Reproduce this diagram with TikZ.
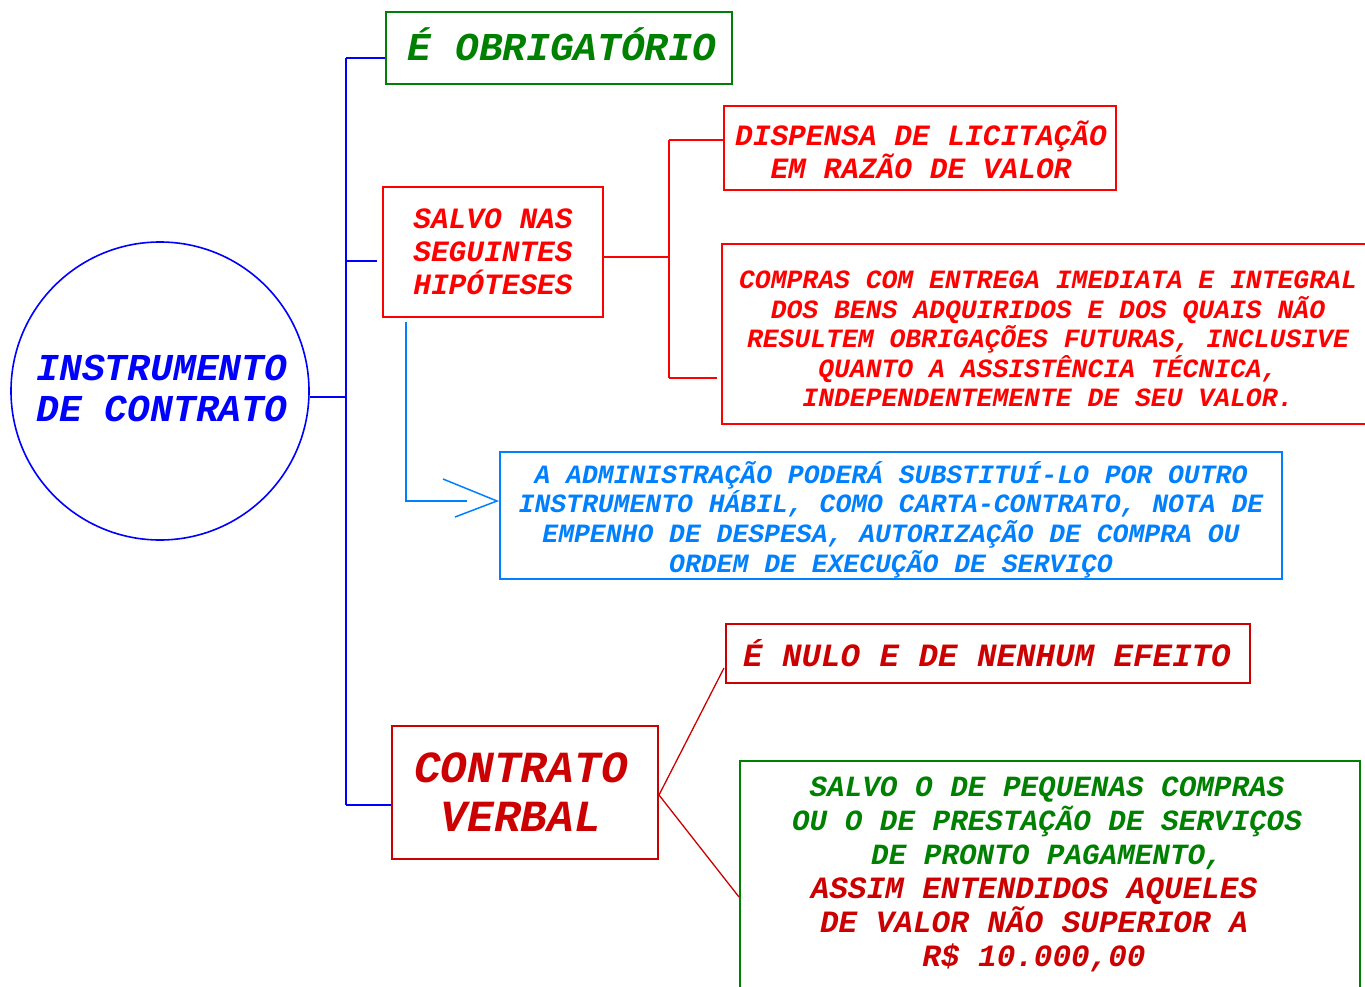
\documentclass[tikz,border=0pt]{standalone}
\usepackage{fontspec}
\newfontfamily\cour{Liberation Mono}
\definecolor{cblue}{RGB}{0,0,255}
\definecolor{cgreen}{RGB}{0,128,0}
\definecolor{cred}{RGB}{255,0,0}
\definecolor{cdred}{RGB}{204,0,0}
\definecolor{clblue}{RGB}{0,128,255}
\newcommand{\redln}[1]{\mbox{\color{cdred}\fontsize{31}{34}\selectfont #1\kern26pt}}
\tikzset{
  bx/.style={draw, line width=1.6pt, inner sep=0pt},
  tx/.style={inner sep=0pt, align=center},
  ln/.style={line width=1.5pt},
  fs/.style 2 args={font=\cour\bfseries\itshape\fontsize{#1}{#2}\selectfont}
}
\begin{document}
\begin{tikzpicture}[x=1pt,y=-1pt]
\useasboundingbox (0,0) rectangle (1365,987);
\clip (0,0) rectangle (1365,987);
% central circle
\node[bx, draw=cblue, circle, minimum size=298pt] (circ) at (160,391) {};
\node[tx, text=cblue, fs={38}{41}] (circt) at (162,388) {INSTRUMENTO\\DE CONTRATO};
% boxes
\node[bx, draw=cgreen, minimum width=346pt, minimum height=72pt] (obrig) at (559,48) {};
\node[tx, text=cgreen, fs={39.5}{42}] (obrigt) at (562,44) {É OBRIGATÓRIO};
\node[bx, draw=cred, minimum width=220pt, minimum height=130pt] (salvo) at (493,252) {};
\node[tx, text=cred, fs={29.5}{33}] (salvot) at (493,252) {SALVO NAS\\SEGUINTES\\HIPÓTESES};
\node[bx, draw=cred, minimum width=392pt, minimum height=84pt] (disp) at (920,148) {};
\node[tx, text=cred, fs={29.5}{33}] (dispt) at (921,150) {DISPENSA DE LICITAÇÃO\\EM RAZÃO DE VALOR};
\node[bx, draw=cred, minimum width=652pt, minimum height=180pt] (compras) at (1048,334) {};
\node[tx, text=cred, fs={26.4}{29.6}] (comprast) at (1048,339) {COMPRAS COM ENTREGA IMEDIATA E INTEGRAL\\DOS BENS ADQUIRIDOS E DOS QUAIS NÃO\\RESULTEM OBRIGAÇÕES FUTURAS, INCLUSIVE\\QUANTO A ASSISTÊNCIA TÉCNICA,\\INDEPENDENTEMENTE DE SEU VALOR.};
\node[bx, draw=clblue, minimum width=782pt, minimum height=127pt] (admin) at (891,515.5) {};
\node[tx, text=clblue, fs={26.4}{29.7}] (admint) at (891,519.5) {A ADMINISTRAÇÃO PODERÁ SUBSTITUÍ-LO POR OUTRO\\INSTRUMENTO HÁBIL, COMO CARTA-CONTRATO, NOTA DE\\EMPENHO DE DESPESA, AUTORIZAÇÃO DE COMPRA OU\\ORDEM DE EXECUÇÃO DE SERVIÇO};
\node[bx, draw=cdred, minimum width=524pt, minimum height=59pt] (nulo) at (988,653.5) {};
\node[tx, text=cdred, fs={32.5}{35}] (nulot) at (987,653.5) {É NULO E DE NENHUM EFEITO};
\node[bx, draw=cdred, minimum width=266pt, minimum height=133pt] (verbal) at (525,792.5) {};
\node[tx, text=cdred, fs={44.5}{49}] (verbalt) at (521,792.5) {CONTRATO\\VERBAL};
\node[bx, draw=cgreen, minimum width=620pt, minimum height=250pt, anchor=north] (salvo2) at (1050,760) {};
\node[tx, text=cgreen, fs={29.3}{34}, anchor=north] (salvo2t) at (1047,777) {SALVO O DE PEQUENAS COMPRAS\\OU O DE PRESTAÇÃO DE SERVIÇOS\\DE PRONTO PAGAMENTO,\\\redln{ASSIM ENTENDIDOS AQUELES}\\\redln{DE VALOR NÃO SUPERIOR A}\\\redln{R\$ 10.000,00}};
% blue trunk
\coordinate (bt) at (346,58);
\coordinate (bb) at (346,805);
\coordinate (bs) at (346,261);
\draw[ln, cblue] (bt) -- (bb);
\draw[ln, cblue] (circ.east |- 0,397) -- (bt |- 0,397);
\draw[ln, cblue] (bt) -- (obrig.west |- bt);
\draw[ln, cblue] (bs) -- ([xshift=-5pt]salvo.west |- bs);
\draw[ln, cblue] (bb) -- (verbal.west |- bb);
% red branches
\coordinate (rt) at (669,140);
\coordinate (rb) at (669,378);
\draw[ln, cred] (salvo.east |- 0,257) -- (rt |- 0,257);
\draw[ln, cred] (rt) -- (rb);
\draw[ln, cred] (rt) -- (disp.west |- rt);
\draw[ln, cred] (rb) -- ([xshift=-4pt]compras.west |- rb);
% light blue arrow
\coordinate (ls) at (406,322);
\coordinate (lc) at (406,501);
\coordinate (le) at (467,501);
\coordinate (tip) at (497,501);
\coordinate (h1) at (443,479);
\coordinate (h2) at (455,517);
\draw[ln, clblue] (ls) -- (lc) -- (le);
\draw[ln, clblue] (h1) -- (tip) -- (h2);
% dark red lines
\coordinate (vo) at (659,795);
\coordinate (n1) at (724,668);
\coordinate (n2) at (739,897);
\draw[line width=1.3pt, cdred] (vo) -- (n1);
\draw[line width=1.3pt, cdred] (vo) -- (n2);
\end{tikzpicture}
\end{document}
